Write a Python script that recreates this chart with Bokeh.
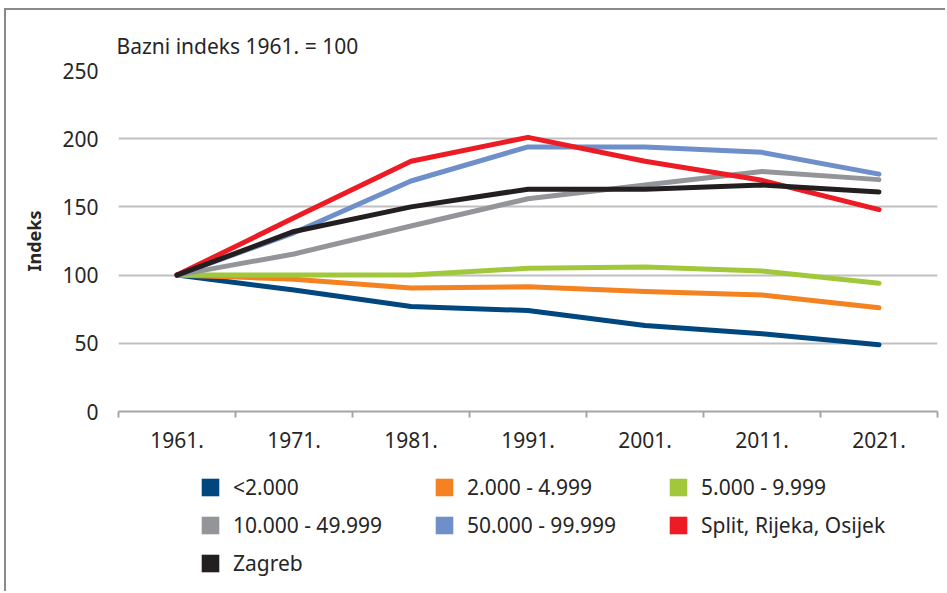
from bokeh.plotting import figure
from bokeh.layouts import column
from bokeh.models import (FixedTicker, Legend, LegendItem, Range1d)
from bokeh.embed import file_html
from bokeh.resources import INLINE

years = ["1961.", "1971.", "1981.", "1991.", "2001.", "2011.", "2021."]

s_lt2000 = [100, 89, 77, 74, 63, 57, 49]
s_2000_4999 = [100, 97, 90.5, 91.5, 88, 85.5, 76]
s_5000_9999 = [100, 100, 100, 105, 106, 103, 94]
s_10000_49999 = [100, 115.5, 136, 156, 166, 176, 170]
s_50000_99999 = [100, 131, 169, 194, 194, 190, 174]
s_split = [100, 142, 183.5, 201, 183.5, 169.5, 148]
s_zagreb = [100, 132, 150, 163, 163, 166, 161]

series_names = ["<2.000", "2.000 - 4.999", "5.000 - 9.999", "10.000 - 49.999",
                "50.000 - 99.999", "Split, Rijeka, Osijek", "Zagreb"]
series_values = [s_lt2000, s_2000_4999, s_5000_9999, s_10000_49999,
                 s_50000_99999, s_split, s_zagreb]
colors = ["#00467f", "#f58220", "#a0c83a", "#939598", "#6e8fc9", "#ed1c24", "#231f20"]

y_ticks = [0, 50, 100, 150, 200, 250]

FONT = "Noto Sans"
TXT = "#262626"
FS = "21px"

xs = [i + 0.5 for i in range(len(years))]

p = figure(width=939, height=460, output_backend="svg", toolbar_location=None,
           x_range=Range1d(0, len(years)), y_range=Range1d(0, 250),
           min_border_left=112, min_border_right=8, min_border_top=60,
           min_border_bottom=59)
p.outline_line_color = None
p.background_fill_color = "white"
p.border_fill_color = "white"

p.title.text = "Bazni indeks 1961. = 100"
p.title.align = "left"
p.title.offset = -2
p.title.standoff = 22
p.title.text_font = FONT
p.title.text_font_size = FS
p.title.text_font_style = "normal"
p.title.text_color = TXT

# x axis
p.xaxis.ticker = FixedTicker(ticks=xs, minor_ticks=list(range(len(years) + 1)))
p.xaxis.major_label_overrides = {x: y for x, y in zip(xs, years)}
p.xaxis.major_tick_out = 0
p.xaxis.major_tick_in = 0
p.xaxis.minor_tick_out = 6
p.xaxis.minor_tick_in = 0
p.xaxis.minor_tick_line_color = "#a6a6a6"
p.xaxis.minor_tick_line_width = 2
p.xaxis.axis_line_color = "#a6a6a6"
p.xaxis.axis_line_width = 2
p.xaxis.major_label_standoff = 14
p.xaxis.major_label_text_font = FONT
p.xaxis.major_label_text_font_size = FS
p.xaxis.major_label_text_color = TXT
p.xgrid.grid_line_color = None

# y axis
p.yaxis.ticker = FixedTicker(ticks=y_ticks)
p.yaxis.axis_line_color = None
p.yaxis.major_tick_line_color = None
p.yaxis.minor_tick_line_color = None
p.yaxis.major_label_standoff = 14
p.yaxis.major_label_text_font = FONT
p.yaxis.major_label_text_font_size = FS
p.yaxis.major_label_text_color = TXT
p.yaxis.axis_label = "Indeks"
p.yaxis.axis_label_text_font = FONT
p.yaxis.axis_label_text_font_size = "18px"
p.yaxis.axis_label_text_font_style = "bold"
p.yaxis.axis_label_text_color = TXT
p.yaxis.axis_label_standoff = 13
p.ygrid.grid_line_color = "#c0c0c0"
p.ygrid.grid_line_width = 2

for vals, col in zip(series_values, colors):
    p.line(xs, vals, line_color=col, line_width=5, line_join="round", line_cap="round")

# legend figure below the chart (its frame is aligned with the chart's frame)
p2 = figure(width=939, height=121, output_backend="svg", toolbar_location=None,
            x_range=Range1d(0, 1), y_range=Range1d(0, 1),
            min_border_left=0, min_border_right=0, min_border_top=0, min_border_bottom=0)
p2.axis.visible = False
p2.grid.visible = False
p2.outline_line_color = None
p2.background_fill_color = "white"
p2.border_fill_color = "white"

items = []
for name, col in zip(series_names, colors):
    # legend proxy: a single zero-size rect outside the visible range
    r = p2.rect(x=[5], y=[5], width=0, height=0, fill_color=col, line_color=None)
    items.append(LegendItem(label=name, renderers=[r]))

legend = Legend(items=items, ncols=3, orientation="horizontal", location=(81, 9),
                glyph_width=22, glyph_height=22, label_standoff=12, spacing=0,
                label_width=200, label_height=38,
                label_text_font=FONT, label_text_font_size=FS, label_text_color=TXT,
                padding=0, margin=0, border_line_color=None, background_fill_alpha=0)
p2.add_layout(legend, "center")

layout = column(p, p2, spacing=0)
layout.styles = {"margin-left": "4px", "margin-top": "8px",
                 "border-top": "2px solid #8a8a8a", "border-left": "2px solid #8a8a8a"}

open("out.html", "w").write(file_html(layout, INLINE))
